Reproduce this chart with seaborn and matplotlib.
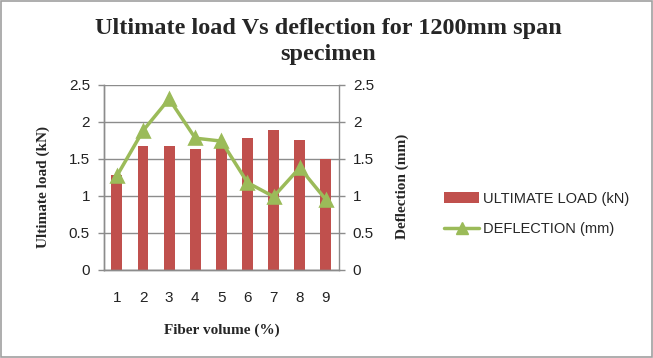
import numpy as np
import pandas as pd
import matplotlib
matplotlib.use("Agg")
import matplotlib.pyplot as plt
import seaborn as sns
from matplotlib.patches import Patch, Rectangle
from matplotlib.lines import Line2D

fiber = ["1", "2", "3", "4", "5", "6", "7", "8", "9"]
ultimate_load = [1.28, 1.68, 1.68, 1.63, 1.67, 1.78, 1.89, 1.76, 1.50]
deflection = [1.27, 1.88, 2.31, 1.78, 1.74, 1.18, 0.99, 1.38, 0.95]
yticks = [0, 0.5, 1, 1.5, 2, 2.5]
yticklabels = ["0", "0.5", "1", "1.5", "2", "2.5"]

sns.set_style("white")
plt.rcParams['font.family'] = ['Liberation Sans', 'DejaVu Sans']

bar_color = "#C0504D"
line_color = "#9BBB59"
grid_color = "#8C8C8C"
serif = ['Liberation Serif', 'DejaVu Serif']

fig = plt.figure(figsize=(6.53, 3.58), dpi=100)
ax = fig.add_axes([0.159, 0.246, 0.360, 0.517])

df = pd.DataFrame({"fiber": fiber, "load": ultimate_load, "defl": deflection})
sns.barplot(data=df, x="fiber", y="load", ax=ax, color=bar_color, width=0.42,
            saturation=1, edgecolor="none", zorder=2)
ax.set_ylim(0, 2.5)
ax.set_xlim(-0.5, 8.5)
ax.set_yticks(yticks)
ax.set_yticklabels(yticklabels)
ax.yaxis.grid(True, color=grid_color, linewidth=1)
ax.set_axisbelow(True)

ax2 = ax.twinx()
sns.pointplot(data=df, x="fiber", y="defl", ax=ax2, color=line_color, markers="^",
              markersize=8, linewidth=2.5, errorbar=None, zorder=3)
ax2.set_ylim(0, 2.5)
ax2.set_xlim(-0.5, 8.5)
ax2.set_yticks(yticks)
ax2.set_yticklabels(yticklabels)
ax2.grid(False)

for a in (ax, ax2):
    for s in a.spines.values():
        s.set_color(grid_color)
        s.set_linewidth(1)
    a.spines['top'].set_visible(False)
    a.tick_params(axis='y', which='both', length=4, width=1, color=grid_color,
                  labelsize=11, labelcolor="#222222", direction='out', pad=6)

ax.spines['right'].set_visible(False)
ax.tick_params(axis='y', left=True)
ax2.tick_params(axis='y', right=True)

ax.set_xticks(range(9))
ax.set_xticklabels(fiber)
ax.tick_params(axis='x', which='major', length=0, labelsize=11, labelcolor="#222222", pad=15)
ax.set_xticks(np.arange(-0.5, 9.0, 1.0), minor=True)
ax.tick_params(axis='x', which='minor', length=4, width=1, color=grid_color, direction='out')

ax.set_xlabel("Fiber volume (%)", fontsize=11, fontweight='bold', family=serif)
ax.set_ylabel("Ultimate load (kN)", fontsize=11, fontweight='bold', family=serif)
ax2.set_ylabel("Deflection (mm)", fontsize=11, fontweight='bold', family=serif)
ax.xaxis.set_label_coords(0.5, -0.287)
ax.yaxis.set_label_coords(-0.23, 0.45)
ax2.yaxis.set_label_coords(1.24, 0.45)

fig.suptitle("Ultimate load Vs deflection for 1200mm span\nspecimen", x=0.503, y=0.95,
             fontsize=17.5, fontweight='bold', family=serif, linespacing=1.3)

handles = [Patch(facecolor=bar_color, edgecolor='none'),
           Line2D([0], [0], color=line_color, lw=2.5, marker='^', markersize=8)]
fig.legend(handles, ["ULTIMATE LOAD (kN)", "DEFLECTION (mm)"], loc='center left',
           bbox_to_anchor=(0.66, 0.403), frameon=False, fontsize=10.5,
           handlelength=2.4, handletextpad=0.25, labelspacing=1.1)

fig.patches.append(Rectangle((0.002, 0.003), 0.996, 0.994, transform=fig.transFigure,
                             fill=False, edgecolor="#A0A0A0", linewidth=1.2))

fig.savefig("out.png", dpi=100)
